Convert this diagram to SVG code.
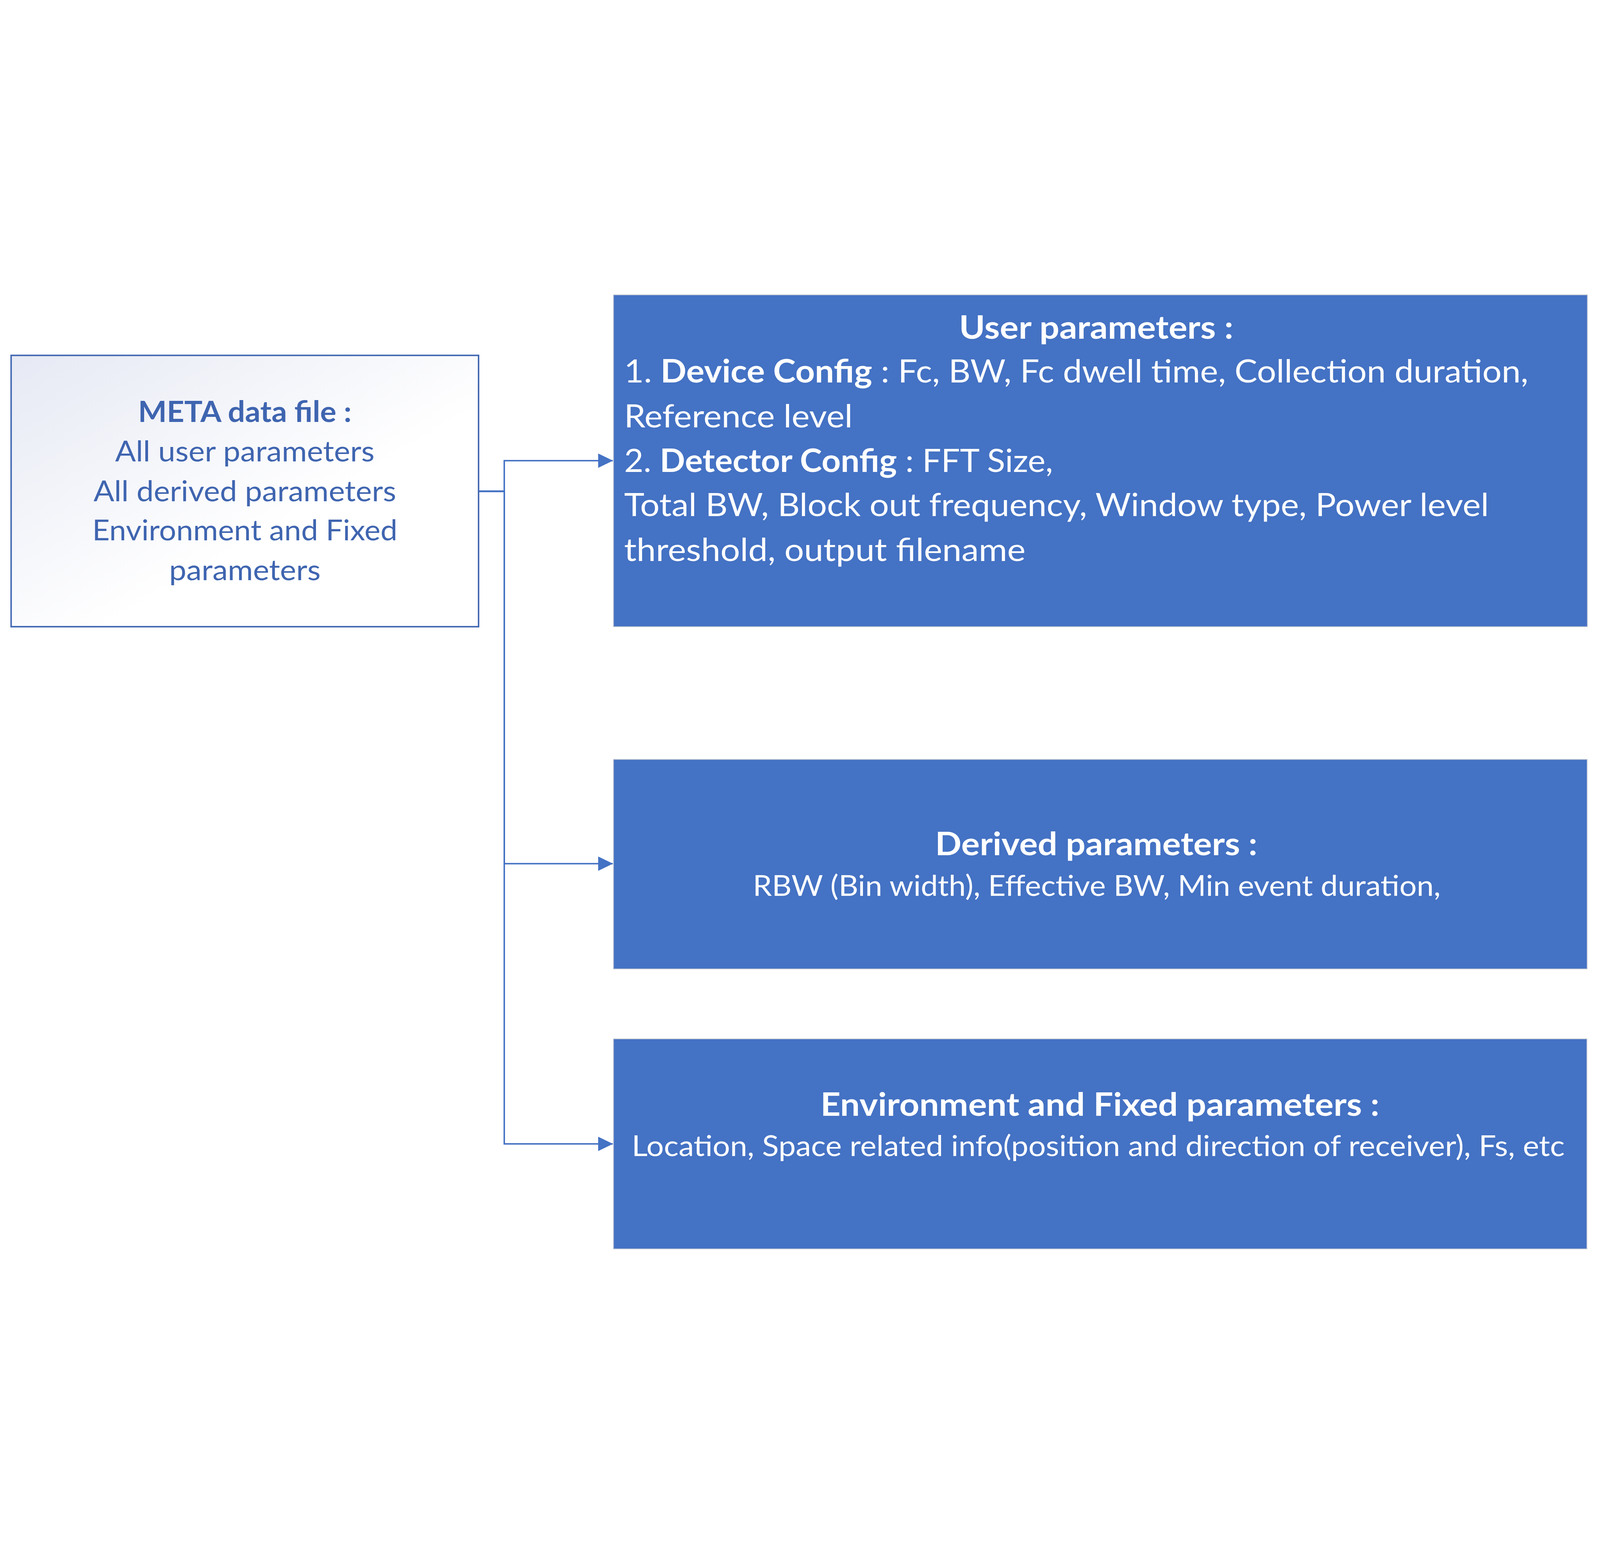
<svg xmlns="http://www.w3.org/2000/svg" width="6476" height="3952" viewBox="0 0 6476 3952" style="width:100vw;height:100vh;display:block">
<style>
.t{font-family:Lato,"Liberation Sans",sans-serif;}
.w{fill:#FFFFFF;}
.m{fill:#3F65B0;}
.b{font-weight:bold;}
.box{fill:#4472C4;stroke:#C3C8D2;stroke-width:3;}
.conn{fill:none;stroke:#4472C4;stroke-width:6;stroke-linejoin:miter;}
</style>
<defs>
<linearGradient id="metaGrad" x1="0" y1="0" x2="1" y2="1">
<stop offset="0" stop-color="#E6E9F4"/>
<stop offset="0.6" stop-color="#FFFFFF"/>
<stop offset="1" stop-color="#FFFFFF"/>
</linearGradient>
<marker id="arrow" markerUnits="userSpaceOnUse" markerWidth="60" markerHeight="60" refX="59" refY="30" orient="auto">
<path d="M0,1 L60,30 L0,59 Z" fill="#4472C4"/>
</marker>
</defs>
<rect width="6476" height="3952" fill="#FFFFFF"/>
<g id="connectors">
<path class="conn" d="M1937,840 H2041 V716 H2480" marker-end="url(#arrow)"/>
<path class="conn" d="M1937,840 H2041 V2347 H2480" marker-end="url(#arrow)"/>
<path class="conn" d="M1937,840 H2041 V3481 H2480" marker-end="url(#arrow)"/>
</g>
<g id="meta">
<rect x="45" y="290" width="1892" height="1098" fill="url(#metaGrad)" stroke="#4067B1" stroke-width="6"/>
<text class="t m b" x="991" y="559" font-size="117" text-anchor="middle" textLength="864" lengthAdjust="spacingAndGlyphs">META data file :</text>
<text class="t m" x="991" y="719" font-size="116" text-anchor="middle" textLength="1050" lengthAdjust="spacingAndGlyphs">All user parameters</text>
<text class="t m" x="991" y="880" font-size="116" text-anchor="middle" textLength="1225" lengthAdjust="spacingAndGlyphs">All derived parameters</text>
<text class="t m" x="991" y="1039" font-size="116" text-anchor="middle" textLength="1235" lengthAdjust="spacingAndGlyphs">Environment and Fixed</text>
<text class="t m" x="991" y="1200" font-size="116" text-anchor="middle" textLength="613" lengthAdjust="spacingAndGlyphs">parameters</text>
</g>
<g id="user-parameters">
<rect class="box" x="2483" y="45" width="3942" height="1343"/>
<text class="t w b" x="4437" y="222" font-size="130" text-anchor="middle" textLength="1110" lengthAdjust="spacingAndGlyphs">User parameters :</text>
<text class="t w" x="2526" y="400" font-size="129" textLength="3660" lengthAdjust="spacingAndGlyphs">1. <tspan class="b">Device Config</tspan> : Fc, BW, Fc dwell time, Collection duration,</text>
<text class="t w" x="2526" y="581" font-size="129" textLength="925" lengthAdjust="spacingAndGlyphs">Reference level</text>
<text class="t w" x="2526" y="761" font-size="129" textLength="1736" lengthAdjust="spacingAndGlyphs">2. <tspan class="b">Detector Config</tspan> : FFT Size,</text>
<text class="t w" x="2526" y="940" font-size="129" textLength="3500" lengthAdjust="spacingAndGlyphs">Total BW, Block out frequency, Window type, Power level</text>
<text class="t w" x="2526" y="1122" font-size="129" textLength="1625" lengthAdjust="spacingAndGlyphs">threshold, output filename</text>
</g>
<g id="derived-parameters">
<rect class="box" x="2483" y="1925" width="3941" height="848"/>
<text class="t w b" x="4437" y="2312" font-size="131" text-anchor="middle" textLength="1304" lengthAdjust="spacingAndGlyphs">Derived parameters :</text>
<text class="t w" x="4439" y="2477" font-size="115" text-anchor="middle" textLength="2784" lengthAdjust="spacingAndGlyphs">RBW (Bin width), Effective BW, Min event duration,</text>
</g>
<g id="environment-parameters">
<rect class="box" x="2483" y="3056" width="3940" height="850"/>
<text class="t w b" x="4452" y="3367" font-size="131" text-anchor="middle" textLength="2262" lengthAdjust="spacingAndGlyphs">Environment and Fixed parameters :</text>
<text class="t w" x="4445" y="3530" font-size="116" text-anchor="middle" textLength="3776" lengthAdjust="spacingAndGlyphs">Location, Space related info(position and direction of receiver), Fs, etc</text>
</g>
</svg>
